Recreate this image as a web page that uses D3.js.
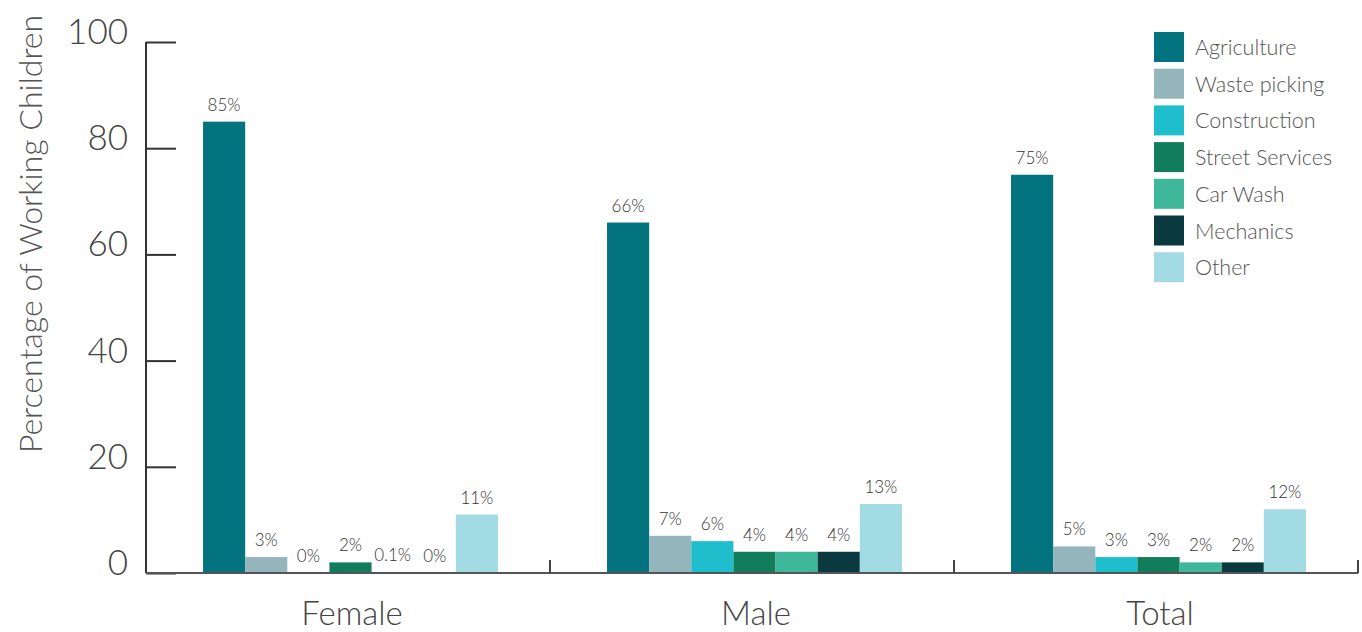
<!DOCTYPE html>
<html>
<head>
<meta charset="utf-8">
<script src="https://cdn.jsdelivr.net/npm/d3@7"></script>
<style>
  body { margin: 0; background: #fff; }
  svg text { font-family: Lato, "Open Sans", sans-serif; }
</style>
</head>
<body>
<div id="chart"></div>
<script>
const canvas = { w: 1362, h: 632 };

const groups = ["Female", "Male", "Total"];
const sectors = ["Agriculture", "Waste picking", "Construction", "Street Services", "Car Wash", "Mechanics", "Other"];
const colors = ["#03747f", "#93b5bb", "#1ebecc", "#117d5a", "#3eb79a", "#0a3a40", "#a3dbe4"];
const female = [85, 3, 0, 2, 0.1, 0, 11];
const male = [66, 7, 6, 4, 4, 4, 13];
const total = [75, 5, 3, 3, 2, 2, 12];
const yTicks = [0, 20, 40, 60, 80, 100];

const series = { Female: female, Male: male, Total: total };

const margin = { left: 146, right: 4, top: 42, bottom: 59 };
const plotW = canvas.w - margin.left - margin.right;
const plotH = canvas.h - margin.top - margin.bottom;

const svg = d3.select("#chart")
    .append("svg")
    .attr("width", canvas.w)
    .attr("height", canvas.h);

const g = svg.append("g")
    .attr("transform", `translate(${margin.left},${margin.top})`);

const x0 = d3.scaleBand()
    .domain(groups)
    .range([0, plotW])
    .paddingInner(0.27)
    .paddingOuter(0.135);

const x1 = d3.scaleBand()
    .domain(sectors)
    .range([0, x0.bandwidth()]);

const y = d3.scaleLinear()
    .domain([0, 100])
    .range([plotH, 0]);

const color = d3.scaleOrdinal().domain(sectors).range(colors);

// bars
const grp = g.selectAll("g.grp")
    .data(groups)
    .join("g")
    .attr("class", "grp")
    .attr("transform", d => `translate(${x0(d) + 2.5},0)`);

grp.selectAll("rect")
    .data(d => sectors.map((s, i) => ({ s, v: series[d][i] })))
    .join("rect")
    .attr("x", d => x1(d.s))
    .attr("y", d => y(d.v))
    .attr("width", x1.bandwidth())
    .attr("height", d => plotH - y(d.v))
    .attr("fill", d => color(d.s));

grp.selectAll("text.val")
    .data(d => sectors.map((s, i) => ({ s, v: series[d][i] })))
    .join("text")
    .attr("class", "val")
    .attr("x", d => x1(d.s) + x1.bandwidth() / 2)
    .attr("y", d => y(d.v) - 11)
    .attr("text-anchor", "middle")
    .attr("font-size", 17)
    .attr("font-weight", 300)
    .attr("fill", "#333")
    .text(d => d.v + "%");

// y axis
const yAxis = g.append("g")
    .call(d3.axisRight(y).tickValues(yTicks).tickSize(30).tickFormat(""));
yAxis.select(".domain").attr("stroke", "#333").attr("stroke-width", 2).attr("d", `M0,0V${plotH}`);
yAxis.selectAll(".tick line").attr("stroke", "#333").attr("stroke-width", 2);

g.selectAll("text.ytick")
    .data(yTicks)
    .join("text")
    .attr("class", "ytick")
    .attr("x", -18)
    .attr("y", d => y(d) + 2)
    .attr("text-anchor", "end")
    .attr("font-size", 35)
    .attr("font-weight", 300)
    .attr("fill", "#444")
    .text(d => d);

// x axis
const xAxis = g.append("g")
    .attr("transform", `translate(0,${plotH})`)
    .call(d3.axisTop(x0).tickSize(0).tickFormat(""));
xAxis.select(".domain").attr("stroke", "#555").attr("stroke-width", 2).attr("d", `M0,0H${plotW}`);
xAxis.selectAll(".tick").remove();

xAxis.selectAll("line.sep")
    .data(groups)
    .join("line")
    .attr("class", "sep")
    .attr("x1", d => x0(d) + x0.bandwidth() / 2 + x0.step() / 2)
    .attr("x2", d => x0(d) + x0.bandwidth() / 2 + x0.step() / 2)
    .attr("y1", 0)
    .attr("y2", -13)
    .attr("stroke", "#444")
    .attr("stroke-width", 2);

xAxis.selectAll("text.cat")
    .data(groups)
    .join("text")
    .attr("class", "cat")
    .attr("x", d => x0(d) + x0.bandwidth() / 2 + 4)
    .attr("y", 52)
    .attr("text-anchor", "middle")
    .attr("font-size", 33)
    .attr("font-weight", 300)
    .attr("fill", "#444")
    .text(d => d);

// y title
svg.append("text")
    .attr("transform", `translate(42,234) rotate(-90)`)
    .attr("text-anchor", "middle")
    .attr("font-size", 32)
    .attr("font-weight", 300)
    .attr("fill", "#555")
    .text("Percentage of Working Children");

// legend
const legend = svg.append("g")
    .attr("transform", "translate(1154,32)");

const item = legend.selectAll("g")
    .data(sectors)
    .join("g")
    .attr("transform", (d, i) => `translate(0,${i * 36.7})`);

item.append("rect")
    .attr("width", 30)
    .attr("height", 30)
    .attr("fill", d => color(d));

item.append("text")
    .attr("x", 41)
    .attr("y", 23)
    .attr("font-size", 21.5)
    .attr("font-weight", 300)
    .attr("fill", "#555")
    .text(d => d);
</script>
</body>
</html>
